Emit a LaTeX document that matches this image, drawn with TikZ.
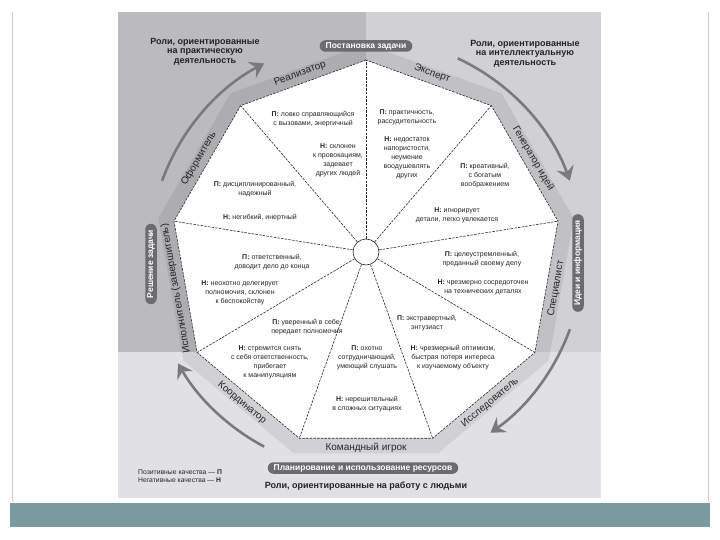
\documentclass[tikz,border=0pt]{standalone}
\usepackage{fontspec}
\setmainfont{Liberation Sans}
\usetikzlibrary{arrows.meta,calc}
\definecolor{regA}{RGB}{186,186,191}
\definecolor{regB}{RGB}{208,208,213}
\definecolor{regC}{RGB}{225,225,229}
\definecolor{pillc}{RGB}{108,108,112}
\definecolor{arcc}{RGB}{122,122,126}
\definecolor{barc}{RGB}{124,154,158}
\definecolor{framec}{RGB}{196,208,214}
\definecolor{titc}{RGB}{35,35,38}
\tikzset{
  wtext/.style={font=\fontsize{7}{9}\selectfont, align=center, inner sep=0pt, text=black!85},
  role/.style={font=\fontsize{10}{12}\selectfont, inner sep=0pt, text=black!85},
  pill/.style={fill=pillc, text=white, font=\fontsize{8.5}{10}\selectfont\bfseries, rounded corners=5.75pt, inner xsep=6pt, inner ysep=0pt, minimum height=11.5pt},
  titlebox/.style={font=\fontsize{9}{9.4}\selectfont\bfseries, align=center, text=titc, inner sep=0pt},
  legend/.style={font=\fontsize{6.8}{8}\selectfont, align=left, inner sep=0pt, anchor=west, text=black!85},
  edgeline/.style={draw=black!85, line width=0.6pt, dash pattern=on 2.5pt off 1.2pt},
  arcarrow/.style={draw=arcc, line width=2.6pt, -{Stealth[length=14pt, width=18pt, inset=5pt]}},
}
\begin{document}
\begin{tikzpicture}[x=1pt,y=-1pt]
\useasboundingbox (0,0) rectangle (720,540);
% slide frame
\draw[framec, line width=1pt] (12,12) -- (12,502);
\draw[framec, line width=1pt] (708,12) -- (708,502);
\fill[barc] (10,503) rectangle (710,527);
% background regions
\fill[regA] (118,12) rectangle (366,352);
\fill[regB] (366,12) rectangle (601,352);
\fill[regC] (118,352) rectangle (601,498);
\coordinate (c) at (366,255);
% vertices
\foreach \i in {0,...,8} {
  \coordinate (v\i) at ($(c)+(-90-40*\i:195)$);
  \coordinate (b\i) at ($(c)+(-90-40*\i:211)$);
}
% band
\fill[black, opacity=0.07] (b0)--(b1)--(b2)--(b3)--(b4)--(b5)--(b6)--(b7)--(b8)--cycle;
% arcs
\draw[arcarrow] ($(c)+(-160:217)$) arc[start angle=-160, end angle=-118, radius=217];
\draw[arcarrow] ($(c)+(-65:217)$) arc[start angle=-65, end angle=-20, radius=217];
\draw[arcarrow] ($(c)+(20:217)$) arc[start angle=20, end angle=55, radius=217];
\draw[arcarrow] ($(c)+(118:217)$) arc[start angle=118, end angle=150, radius=217];
% nonagon
\draw[edgeline, fill=white] (v0)--(v1)--(v2)--(v3)--(v4)--(v5)--(v6)--(v7)--(v8)--cycle;
\node[circle, draw=black!85, line width=0.6pt, fill=white, minimum size=26pt, inner sep=0pt] (hub) at (366,252) {};
\foreach \i in {0,...,8} { \draw[edgeline] (hub) -- (v\i); }
% role labels
\node[role, rotate=20]  (rRe) at ($(c)+(-110:193)$) {Реализатор};
\node[role, rotate=60]  (rOf) at ($(c)+(-150:193)$) {Оформитель};
\node[role, rotate=100] (rIs) at ($(c)+(-190:193)$) {Исполнитель (завершитель)};
\node[role, rotate=-40] (rKo) at ($(c)+(-230:193)$) {Координатор};
\node[role]             (rKi) at ($(c)+(-270:193)$) {Командный игрок};
\node[role, rotate=40]  (rIss) at ($(c)+(-310:193)$) {Исследователь};
\node[role, rotate=80]  (rSp) at ($(c)+(-350:193)$) {Специалист};
\node[role, rotate=-60] (rGe) at ($(c)+(-30:193)$) {Генератор идей};
\node[role, rotate=-20] (rEx) at ($(c)+(-70:193)$) {Эксперт};
% wedge texts
\node[wtext] (t1p) at (313,119) {\textbf{П:} ловко справляющийся\\с вызовами, энергичный};
\node[wtext] (t1n) at (338,160.5) {\textbf{Н:} склонен\\к провокациям,\\задевает\\других людей};
\node[wtext] (t2p) at (255,189.5) {\textbf{П:} дисциплинированный,\\надежный};
\node[wtext] (t2n) at (260,218) {\textbf{Н:} негибкий, инертный};
\node[wtext] (t3p) at (272,262) {\textbf{П:} ответственный,\\доводит дело до конца};
\node[wtext] (t3n) at (240,293) {\textbf{Н:} неохотно делегирует\\полномочия, склонен\\к беспокойству};
\node[wtext] (t4p) at (307,327) {\textbf{П:} уверенный в себе,\\передает полномочия};
\node[wtext] (t4n) at (270,362.5) {\textbf{Н:} стремится снять\\с себя ответственность,\\прибегает\\к манипуляциям};
\node[wtext] (t5p) at (367,358) {\textbf{П:} охотно\\сотрудничающий,\\умеющий слушать};
\node[wtext] (t5n) at (367,404.5) {\textbf{Н:} нерешительный\\в сложных ситуациях};
\node[wtext] (t6p) at (427,323) {\textbf{П:} экстравертный,\\энтузиаст};
\node[wtext] (t6n) at (453,357.5) {\textbf{Н:} чрезмерный оптимизм,\\быстрая потеря интереса\\к изучаемому объекту};
\node[wtext] (t7p) at (482,259) {\textbf{П:} целеустремленный,\\преданный своему делу};
\node[wtext] (t7n) at (483,287.5) {\textbf{Н:} чрезмерно сосредоточен\\на технических деталях};
\node[wtext] (t8p) at (485,176) {\textbf{П:} креативный,\\с богатым\\воображением};
\node[wtext] (t8n) at (457,215) {\textbf{Н:} игнорирует\\детали, легко увлекается};
\node[wtext] (t9p) at (407,117.5) {\textbf{П:} практичность,\\рассудительность};
\node[wtext] (t9n) at (407,157.5) {\textbf{Н:} недостаток\\напористости,\\неумение\\воодушевлять\\других};
% pills
\node[pill] (pTop) at (366,46) {Постановка задачи};
\node[pill, rotate=90] (pLeft) at (151,264) {Решение задачи};
\node[pill, rotate=90] (pRight) at (578,263) {Идеи и информация};
\node[pill] (pBot) at (363,468) {Планирование и использование ресурсов};
% titles
\node[titlebox] (hTL) at (205,51.5) {Роли, ориентированные\\на практическую\\деятельность};
\node[titlebox] (hTR) at (525,53.5) {Роли, ориентированные\\на интеллектуальную\\деятельность};
\node[titlebox] (hB) at (366,486) {Роли, ориентированные на работу с людьми};
% legend
\node[legend] (lg) at (138,476) {Позитивные качества — \textbf{П}\\Негативные качества — \textbf{Н}};
\end{tikzpicture}
\end{document}
